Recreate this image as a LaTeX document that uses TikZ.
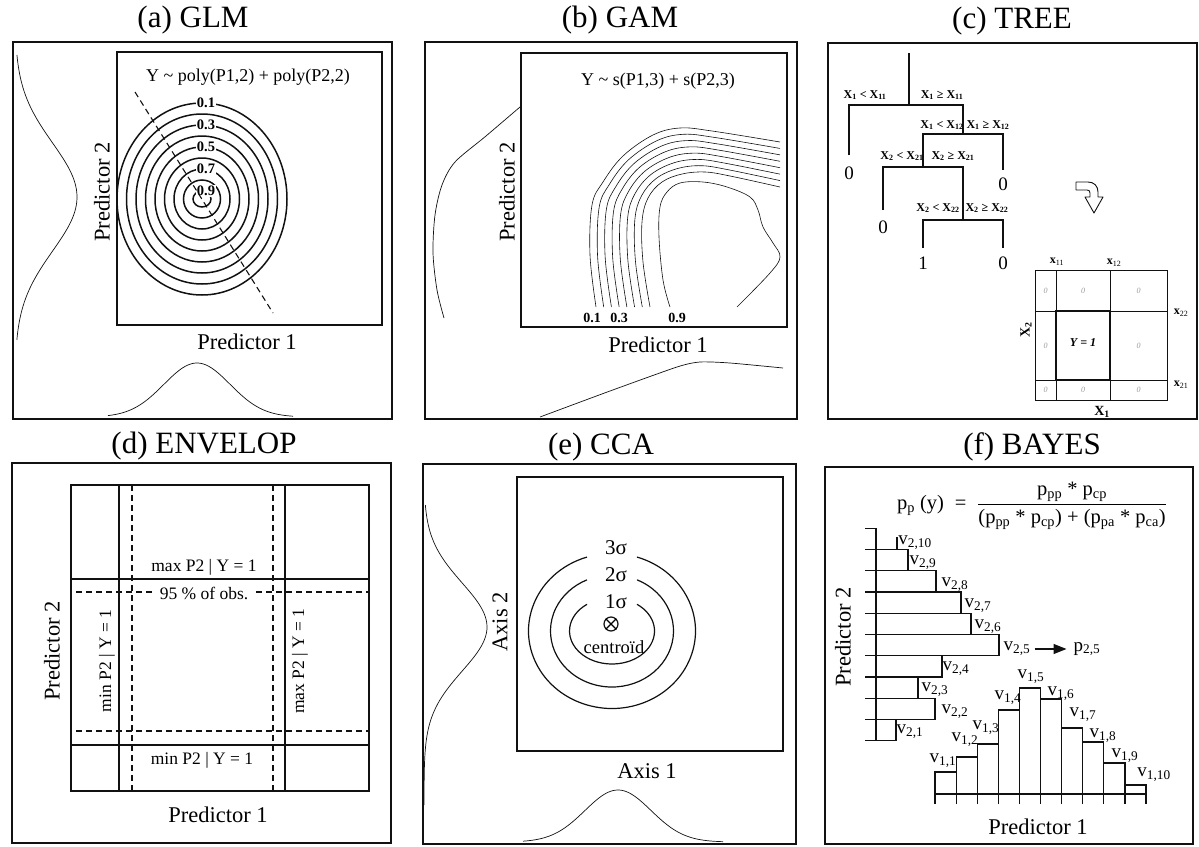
\documentclass[tikz,border=0pt]{standalone}
\usepackage{amsmath,amssymb}
\usepackage{fontspec}
\setmainfont{Liberation Serif}
\usepackage{tikz}
\usetikzlibrary{
  arrows.meta,
  calc,
  positioning
}
\definecolor{FigInk}{HTML}{111111}
\definecolor{FigFaint}{HTML}{9A9A9A}
\tikzset{
  every picture/.style = {line join=miter},
  panel/.style = {draw=FigInk, line width=1.1pt},
  plot frame/.style = {draw=FigInk, line width=1.4pt},
  panel title/.style = {font=\fontsize{31}{33}\selectfont, inner sep=0pt},
  axis title/.style = {font=\fontsize{22.5}{24}\selectfont, inner sep=0pt},
  model formula/.style = {font=\fontsize{18}{20}\selectfont, inner sep=0pt},
  margin curve/.style = {draw=FigInk, line width=0.7pt},
  glm contour/.style = {draw=FigInk, line width=1.5pt},
  gam contour/.style = {draw=FigInk, line width=0.6pt},
  level label/.style = {font=\fontsize{14.5}{15}\selectfont\bfseries, fill=white, inner sep=0.6pt},
  gam label/.style = {font=\fontsize{14}{15}\selectfont\bfseries, inner sep=0pt},
  trend dash/.style = {draw=FigInk, line width=1.1pt, dash pattern=on 6pt off 4pt},
  tree edge/.style = {draw=FigInk, line width=2.6pt},
  split label/.style = {font=\fontsize{12}{13}\selectfont\bfseries, inner sep=0pt},
  leaf label/.style = {font=\fontsize{19}{20}\selectfont, inner sep=0pt},
  grid line/.style = {draw=FigInk, line width=0.9pt},
  grid cut/.style = {font=\fontsize{12}{13}\selectfont, inner sep=0pt},
  cell zero/.style = {font=\fontsize{8}{8}\selectfont\itshape, text=FigFaint, inner sep=0pt},
  envelope line/.style = {draw=FigInk, line width=1.2pt},
  envelope dash/.style = {draw=FigInk, line width=1.2pt, dash pattern=on 6pt off 4pt},
  envelope label/.style = {font=\fontsize{17.5}{19}\selectfont, inner sep=1pt},
  sigma ring/.style = {draw=FigInk, line width=1.2pt},
  sigma label/.style = {font=\fontsize{21}{22}\selectfont, inner sep=0pt},
  hist bar/.style = {draw=FigInk, line width=1.2pt},
  bin label/.style = {font=\fontsize{19}{21}\selectfont, inner sep=1pt},
  bayes arrow/.style = {-{Triangle[length=13pt,width=10pt]}, draw=FigInk, line width=1.2pt},
}
\newcommand{\xs}[1]{X\textsubscript{#1}}
\newcommand{\binv}[2]{v\textsubscript{#1,#2}}

\begin{document}
\begin{tikzpicture}[x=1pt,y=-1pt]
  \useasboundingbox (0,0) rectangle (1199,846);

  % (a) GLM
  \node[panel title] (titleA) at (193,20) {(a) GLM};
  \draw[panel] (13,42) rectangle (392,419);
  \draw[plot frame] (117,52) rectangle (382,325);
  \node[model formula] (formA) at (248,77) {Y \textasciitilde\ poly(P1,2) + poly(P2,2)};
  \foreach \i in {0,...,8}
    \draw[glm contour] (202,199) ellipse [x radius={85-9.5*\i}, y radius={96-11*\i}];
  \foreach \lev/\i in {0.1/0,0.3/2,0.5/4,0.7/6,0.9/8}
    \node[level label] (glmlev\i) at (206,{103+11*\i}) {\lev};
  \draw[trend dash] (135,92) -- (273,313);
  \node[axis title] (xlabA) at (247,342) {Predictor 1};
  \node[axis title, rotate=90] (ylabA) at (102,192) {Predictor 2};
  \draw[margin curve] plot[domain=55:340, samples=90]
    ({15+62*exp(-((\x-197)/54)*((\x-197)/54)/2)}, \x);
  \draw[margin curve] plot[domain=108:293, samples=90]
    (\x, {417-54*exp(-((\x-197)/33)*((\x-197)/33)/2)});

  % (b) GAM
  \node[panel title] (titleB) at (620,20) {(b) GAM};
  \draw[panel] (425,42) rectangle (797,419);
  \draw[plot frame] (521,53) rectangle (787,327);
  \node[model formula] (formB) at (658,81) {Y \textasciitilde\ s(P1,3) + s(P2,3)};
  \foreach \k/\ox/\oy/\nx/\ny in {1/596/307/650/307, 2/590/255/643/262, 3/592/205/642/222,
      4/603/182/648/198, 5/623/156/662/182, 6/653/135/682/174, 7/680/128/705/172,
      8/712/131/730/176, 9/780/142/780/187} {
    \coordinate (gamO\k) at (\ox,\oy);
    \coordinate (gamN\k) at (\nx,\ny);
  }
  \foreach \i in {0,...,7} {
    \pgfmathsetmacro{\gamt}{\i/7}
    \foreach \k in {1,...,9}
      \coordinate (gamC\k) at ($(gamO\k)!\gamt!(gamN\k)$);
    \draw[gam contour] plot[smooth, tension=0.6] coordinates
      {(gamC1) (gamC2) (gamC3) (gamC4) (gamC5) (gamC6) (gamC7) (gamC8) (gamC9)};
  }
  \draw[gam contour] plot[smooth, tension=0.6] coordinates
    {(670,307) (663,280) (659,237) (660,207) (667,192) (680,183) (703,182) (727,187)
     (750,197) (758,210) (763,227) (773,243) (780,257) (770,273) (737,307)};
  \node[gam label] (gam01) at (592,318) {0.1};
  \node[gam label] (gam03) at (619,318) {0.3};
  \node[gam label] (gam09) at (677,318) {0.9};
  \node[axis title] (xlabB) at (658,345) {Predictor 1};
  \node[axis title, rotate=90] (ylabB) at (507,192) {Predictor 2};
  \draw[margin curve] plot[smooth, tension=0.5] coordinates
    {(520,107) (486,136) (455,162) (442,185) (435,215) (433,253) (437,290) (444,318)};
  \draw[margin curve] plot[smooth, tension=0.4] coordinates
    {(540,417) (610,391) (677,367) (700,362) (730,363) (783,368)};

  % (c) TREE
  \node[panel title] (titleC) at (1012,21) {(c) TREE};
  \draw[panel] (828,43) rectangle (1197,419);
  \coordinate (treeRoot) at (909,53);
  \coordinate (split1) at (909,105);
  \coordinate (split2) at (963,134);
  \coordinate (split3) at (923,167);
  \coordinate (split4) at (963,220);
  \coordinate (leaf1) at (849,155);
  \coordinate (leaf2) at (1003,170);
  \coordinate (leaf3) at (883,210);
  \coordinate (leaf4) at (923,248);
  \coordinate (leaf5) at (1003,248);
  \draw[tree edge] (treeRoot) -- (split1);
  \draw[tree edge] (leaf1) |- (split1) -| (split2);
  \draw[tree edge] (split3) |- (split2) -| (leaf2);
  \draw[tree edge] (leaf3) |- (split3) -| (split4);
  \draw[tree edge] (leaf4) |- (split4) -| (leaf5);
  \node[split label] (cutA) at (865,95) {\xs{1} < \xs{11}};
  \node[split label] (cutB) at (942,95) {\xs{1} ≥ \xs{11}};
  \node[split label] (cutC) at (942,125) {\xs{1} < \xs{12}};
  \node[split label] (cutD) at (988,125) {\xs{1} ≥ \xs{12}};
  \node[split label] (cutE) at (902,156) {\xs{2} < \xs{21}};
  \node[split label] (cutF) at (953,156) {\xs{2} ≥ \xs{21}};
  \node[split label] (cutG) at (938,208) {\xs{2} < \xs{22}};
  \node[split label] (cutH) at (987,208) {\xs{2} ≥ \xs{22}};
  \node[leaf label] (leafval1) at (849,173) {0};
  \node[leaf label] (leafval2) at (1003,184) {0};
  \node[leaf label] (leafval3) at (883,227) {0};
  \node[leaf label] (leafval4) at (923,263) {1};
  \node[leaf label] (leafval5) at (1003,263) {0};
  \draw[draw=FigInk, line width=0.9pt, line join=round]
    (1076,182) -- (1088,182) .. controls (1094,182) and (1098,186) .. (1098,192)
    -- (1098,197) -- (1103,197) -- (1094,213) -- (1085,197) -- (1090,197) -- (1090,193)
    .. controls (1090,191) and (1089,190) .. (1087,190) -- (1076,190) -- cycle;
  \draw[grid line] (1035,270) rectangle (1167,400);
  \draw[grid line] (1056,270) -- (1056,400);
  \draw[grid line] (1110,270) -- (1110,400);
  \draw[grid line] (1035,311) -- (1167,311);
  \draw[grid line] (1035,380) -- (1167,380);
  \draw[draw=FigInk, line width=1.8pt] (1056,311) rectangle (1110,380);
  \foreach \cx/\cy [count=\c] in {1045.5/290.5, 1083/290.5, 1138.5/290.5, 1045.5/345.5,
      1138.5/345.5, 1045.5/390, 1083/390, 1138.5/390}
    \node[cell zero] (cell\c) at (\cx,\cy) {0};
  \node[font=\fontsize{12}{12}\selectfont\bfseries\itshape, inner sep=0pt] (yone) at (1083,343) {Y = 1};
  \node[grid cut] (cutx11) at (1057,262) {\textbf{x}\textsubscript{11}};
  \node[grid cut] (cutx12) at (1114,263) {\textbf{x}\textsubscript{12}};
  \node[grid cut] (cutx22) at (1181,313) {\textbf{x}\textsubscript{22}};
  \node[grid cut] (cutx21) at (1181,385) {\textbf{x}\textsubscript{21}};
  \node[grid cut, font=\fontsize{14}{14}\selectfont\bfseries, rotate=90] (gridY) at (1026,330) {\xs{2}};
  \node[grid cut, font=\fontsize{14}{14}\selectfont\bfseries] (gridX) at (1102,412) {\xs{1}};

  % (d) ENVELOP
  \node[panel title] (titleD) at (204,446) {(d) ENVELOP};
  \draw[panel] (12,463) rectangle (391,843);
  \draw[envelope line] (71,485) rectangle (369,791);
  \draw[envelope line] (119,485) -- (119,791);
  \draw[envelope line] (285,485) -- (285,791);
  \draw[envelope line] (71,579) -- (369,579);
  \draw[envelope line] (71,745) -- (369,745);
  \draw[envelope dash] (132,485) -- (132,791);
  \draw[envelope dash] (273,485) -- (273,791);
  \draw[envelope dash] (76,592) -- (368,592);
  \draw[envelope dash] (76,731) -- (368,731);
  \node[envelope label] (maxTop) at (204,567) {max P2 | Y = 1};
  \node[envelope label, fill=white, inner xsep=5pt] (obs95) at (204,593) {95 \% of obs.};
  \node[envelope label] (minBottom) at (202,760) {min P2 | Y = 1};
  \node[envelope label, rotate=90] (minLeft) at (107,661) {min P2 | Y = 1};
  \node[envelope label, rotate=90] (maxRight) at (300,661) {max P2 | Y = 1};
  \node[axis title] (xlabD) at (218,815) {Predictor 1};
  \node[axis title, rotate=90] (ylabD) at (52,651) {Predictor 2};

  % (e) CCA
  \node[panel title] (titleE) at (601,447) {(e) CCA};
  \draw[panel] (423,464) rectangle (796,844);
  \draw[plot frame] (517,477) rectangle (783,751);
  \foreach \rx/\ry/\g in {83.5/77.5/72.6, 61.5/56/66, 42.5/33/54}
    \draw[sigma ring] ({612+\rx*cos(\g)}, {631-\ry*sin(\g)})
      arc[start angle=-\g, end angle={180+\g}, x radius=\rx, y radius=\ry];
  \node[sigma label] (sig3) at (616,548) {3σ};
  \node[sigma label] (sig2) at (616,575) {2σ};
  \node[sigma label] (sig1) at (616,602) {1σ};
  \node[circle, draw=FigInk, line width=1.2pt, minimum size=14pt, inner sep=0pt] (centroid) at (611,624) {};
  \draw[line width=1.2pt] (centroid.north west) -- (centroid.south east);
  \draw[line width=1.2pt] (centroid.north east) -- (centroid.south west);
  \node[font=\fontsize{18.5}{20}\selectfont, inner sep=0pt] (centroidText) at (614,647) {centroïd};
  \node[axis title] (xlabE) at (647,771) {Axis 1};
  \node[axis title, rotate=90] (ylabE) at (500,622) {Axis 2};
  \draw[margin curve] plot[domain=505:805, samples=90]
    ({424+63*exp(-((\x-627)/44)*((\x-627)/44)/2)}, \x);
  \draw[margin curve] plot[domain=523:723, samples=90]
    (\x, {842-52*exp(-((\x-618)/33)*((\x-618)/33)/2)});

  % (f) BAYES
  \node[panel title] (titleF) at (1032,447) {(f) BAYES};
  \draw[panel] (825,467) rectangle (1193,844);
  \node[model formula, font=\fontsize{20.5}{22}\selectfont] (bayesRule) at (1032,506)
    {p\textsubscript{p} (y) \;=\; $\dfrac{\text{p\textsubscript{pp} * p\textsubscript{cp}}}
     {\text{(p\textsubscript{pp} * p\textsubscript{cp}) + (p\textsubscript{pa} * p\textsubscript{ca})}}$};
  \foreach \j/\len in {1/896,2/935,3/918,4/942,5/999,6/971,7/961,8/936,9/908}
    \draw[hist bar] (876,{740.7-21.24*(\j-1)}) rectangle (\len,{740.7-21.24*\j});
  \draw[hist bar] (897,537) -- (897,549.5);
  \foreach \k in {0,...,10}
    \draw[hist bar] (865,{528.3+21.24*\k}) -- (876,{528.3+21.24*\k});
  \draw[hist bar] (876,528.3) -- (876,740.7);
  \foreach \j/\px/\py in {10/915/543, 9/923/563, 8/955/585, 7/978/606, 6/988/627,
      5/1017/649, 4/956/669, 3/935/690, 2/955/712, 1/910/732}
    \node[bin label] (vtwo\j) at (\px,\py) {\binv{2}{\j}};
  \node[bin label] (ptwofive) at (1087,649) {p\textsubscript{2,5}};
  \draw[bayes arrow, shorten <=3pt, shorten >=6pt] (vtwo5) -- (ptwofive);
  \foreach \j/\ytop in {1/772,2/757,3/744,4/710,5/688,6/699,7/728,8/742,9/763,10/785}
    \draw[hist bar] ({935+21.1*(\j-1)},794) rectangle ({935+21.1*\j},\ytop);
  \foreach \k in {0,...,10}
    \draw[hist bar] ({935+21.1*\k},794) -- ({935+21.1*\k},804);
  \foreach \j/\px/\py in {1/943/761, 2/965/740, 3/986/728, 4/1008/698, 5/1031/677,
      6/1061/694, 7/1083/715, 8/1103/736, 9/1125/756, 10/1154/775}
    \node[bin label] (vone\j) at (\px,\py) {\binv{1}{\j}};
  \node[axis title] (xlabF) at (1038,827) {Predictor 1};
  \node[axis title, rotate=90] (ylabF) at (843,637) {Predictor 2};
\end{tikzpicture}
\end{document}
